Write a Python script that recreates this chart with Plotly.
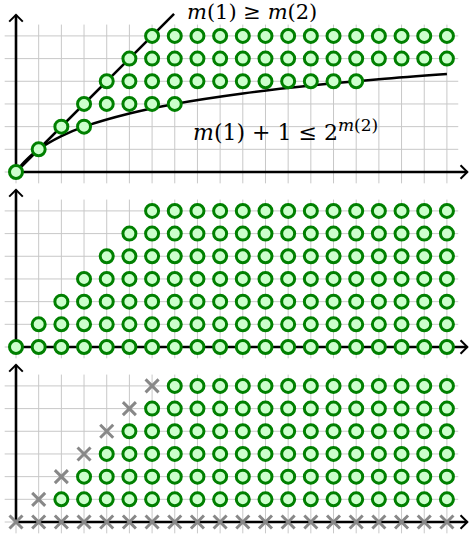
import plotly.graph_objects as go

# grid extent (in units)
x_ticks = list(range(0, 20))
y_ticks = list(range(0, 7))

# panel 1: for each m(2) row, the m(1) range that satisfies both conditions
p1_rows = [0, 1, 2, 3, 4, 5, 6]
p1_start = [0, 1, 2, 3, 4, 5, 6]
p1_end = [0, 1, 3, 7, 15, 19, 19]

# panel 2: all points with m(1) >= m(2)
p2_rows = [0, 1, 2, 3, 4, 5, 6]
p2_start = [0, 1, 2, 3, 4, 5, 6]
p2_end = [19, 19, 19, 19, 19, 19, 19]

# panel 3: crossed-out diagonal and bottom row, circles strictly right of diagonal
p3_rows = [1, 2, 3, 4, 5, 6]
p3_start = [2, 3, 4, 5, 6, 7]
p3_end = [19, 19, 19, 19, 19, 19]
p3_cross_x = list(range(0, 20)) + [1, 2, 3, 4, 5, 6]
p3_cross_y = [0] * 20 + [1, 2, 3, 4, 5, 6]

# boundary curves of panel 1
diag_x = [0, 6.97]
diag_y = [0, 6.97]
curve_x = [0, 0.25, 0.5, 1, 2, 3, 5, 7, 10, 13, 16, 19]
curve_y = [0, 0.32, 0.58, 1.0, 1.58, 2.0, 2.58, 3.0, 3.46, 3.81, 4.09, 4.32]

W, H = 469, 537
PX = 22.68  # pixels per unit
GREEN = "#008000"
FILL = "#ccffcc"
GRID = "#c8c8c8"
SERIF = "DejaVu Serif, Liberation Serif, serif"

fig = go.Figure()

# panel pixel layout: (top px, bottom px, origin y px)
panels = [(0, 185, 172), (185, 360, 347), (360, 537, 522)]
x0_px = 16
xrange_ = [-x0_px / PX, (W - x0_px) / PX]

for i, (top, bot, org) in enumerate(panels, start=1):
    sfx = "" if i == 1 else str(i)
    fig.update_layout(**{
        "xaxis" + sfx: dict(domain=[0, 1], range=xrange_, visible=False,
                            anchor="y" + sfx),
        "yaxis" + sfx: dict(domain=[1 - bot / H, 1 - top / H],
                            range=[(org - bot) / PX, (org - top) / PX],
                            visible=False, anchor="x" + sfx),
    })


def rows_to_points(rows, starts, ends):
    xs, ys = [], []
    for r, s, e in zip(rows, starts, ends):
        for x in range(s, e + 1):
            xs.append(x)
            ys.append(r)
    return xs, ys


def add_frame(ax):
    xa, ya = "x" + ax, "y" + ax
    gx, gy = [], []
    for x in x_ticks:
        gx += [x, x, None]
        gy += [-0.5, 6.5, None]
    for y in y_ticks:
        gx += [-0.5, 19.5, None]
        gy += [y, y, None]
    fig.add_trace(go.Scatter(x=gx, y=gy, mode="lines", xaxis=xa, yaxis=ya,
                             line=dict(color=GRID, width=1), hoverinfo="skip"))
    # axes with open arrow heads
    fig.add_trace(go.Scatter(x=[0, 19.9, None, 0, 0], y=[0, 0, None, 0, 6.93],
                             mode="lines", xaxis=xa, yaxis=ya,
                             line=dict(color="black", width=2.6)))
    fig.add_trace(go.Scatter(x=[19.6, 19.9, 19.6, None, -0.3, 0, 0.3],
                             y=[0.3, 0, -0.3, None, 6.63, 6.93, 6.63],
                             mode="lines", xaxis=xa, yaxis=ya,
                             line=dict(color="black", width=2)))


def add_dots(ax, xs, ys):
    fig.add_trace(go.Scatter(x=xs, y=ys, mode="markers", xaxis="x" + ax, yaxis="y" + ax,
                             marker=dict(symbol="circle", size=13, color=FILL,
                                         line=dict(color=GREEN, width=3))))


# panel 1
add_frame("")
fig.add_trace(go.Scatter(x=diag_x, y=diag_y, mode="lines",
                         line=dict(color="black", width=2.5)))
fig.add_trace(go.Scatter(x=curve_x, y=curve_y, mode="lines",
                         line=dict(color="black", width=2.5, shape="spline")))
add_dots("", *rows_to_points(p1_rows, p1_start, p1_end))

# panel 2
add_frame("2")
add_dots("2", *rows_to_points(p2_rows, p2_start, p2_end))

# panel 3
add_frame("3")
fig.add_trace(go.Scatter(x=p3_cross_x, y=p3_cross_y, mode="markers",
                         xaxis="x3", yaxis="y3",
                         marker=dict(symbol="x-thin", size=13,
                                     line=dict(color="#888888", width=3))))
add_dots("3", *rows_to_points(p3_rows, p3_start, p3_end))

fig.add_annotation(x=7.45, y=7.06, xref="x", yref="y", xanchor="left", yanchor="middle",
                   text="<i>m</i>(1) ≥ <i>m</i>(2)", showarrow=False,
                   font=dict(family=SERIF, size=21, color="black"))
fig.add_annotation(x=7.72, y=1.85, xref="x", yref="y", xanchor="left", yanchor="middle",
                   text="<i>m</i>(1) + 1 ≤ 2<sup><span style='font-size:17px'>"
                        "<i>m</i>(2)</span></sup>", showarrow=False,
                   font=dict(family=SERIF, size=22, color="black"))

fig.update_layout(width=W, height=H, margin=dict(l=0, r=0, t=0, b=0),
                  showlegend=False, plot_bgcolor="white", paper_bgcolor="white")

fig.write_html("out.html", config={"displayModeBar": False},
               post_script="document.body.style.margin='0';")
